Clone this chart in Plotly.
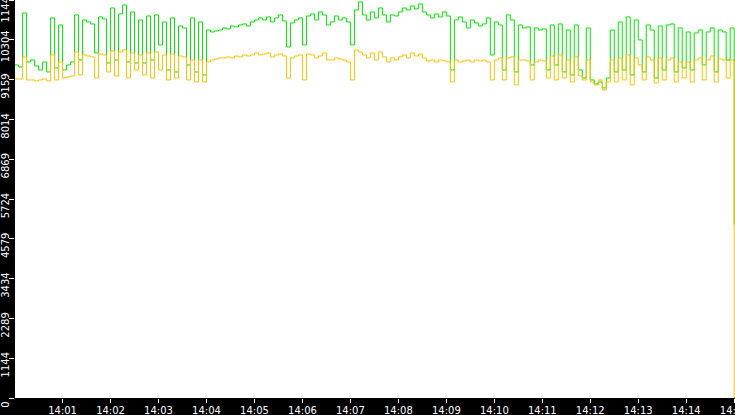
import pandas as pd
import plotly.graph_objects as go

# muestras cada 5 s desde las 14:00:00
start_time = '2024-01-01 14:00:00'
step_sec = 5

green_vals = [9580, 9523, 11076, 9667, 9724, 9552, 9437, 9667, 9379, 10933,
              9494, 10731, 9437, 9580, 9667, 11019, 9724, 10875, 10818, 10760,
              9926, 10961, 10904, 9638, 11220, 9724, 11048, 11306, 9667, 11105,
              9638, 10875, 9638, 10990, 9724, 11019, 10156, 10818, 9437, 10933,
              9379, 10702, 10645, 9580, 10933, 9379, 10818, 9293, 10587, 10530,
              10559, 10587, 10645, 10616, 10702, 10674, 10731, 10760, 10702, 10818,
              10875, 10933, 10875, 10961, 10818, 10933, 11019, 10846, 10098, 10789,
              10875, 10933, 10156, 10990, 11048, 10875, 11105, 11019, 10731, 10818,
              10990, 10875, 10933, 10818, 10156, 11163, 11393, 11019, 10875, 11105,
              10933, 11220, 11019, 10818, 11019, 10990, 11105, 11220, 11163, 11278,
              11192, 11335, 11105, 11019, 10933, 11048, 10961, 11105, 10990, 9437,
              10875, 10961, 10818, 10645, 10875, 10789, 10702, 10760, 10933, 9868,
              10818, 10731, 9437, 11019, 10875, 9379, 10731, 10645, 10674, 9580,
              10645, 10587, 10616, 9437, 10731, 9580, 10760, 9379, 10587, 9293,
              10731, 9437, 9206, 10645, 9149, 9034, 9091, 8919, 9206, 10587,
              9379, 10818, 9437, 10961, 9293, 10875, 10300, 9379, 10731, 10587,
              9206, 10702, 9437, 10731, 10760, 9379, 10645, 9494, 10530, 9437,
              10501, 10587, 9580, 10530, 10645, 9379, 10587, 10530, 9724, 10645,
              4977]

orange_vals = [9177, 9177, 9811, 9149, 9149, 9120, 9149, 9177, 9120, 9868,
               9149, 9667, 9206, 9235, 9264, 9954, 9293, 9868, 9839, 9811,
               9206, 9897, 9868, 9379, 9983, 9264, 9954, 10012, 9206, 9926,
               9437, 9868, 9293, 9926, 9206, 9954, 9437, 9868, 9149, 9897,
               9206, 9839, 9811, 9149, 9724, 9091, 9724, 9091, 9667, 9724,
               9753, 9782, 9782, 9811, 9782, 9839, 9811, 9868, 9839, 9868,
               9926, 9868, 9897, 9926, 9811, 9868, 9897, 9839, 9206, 9782,
               9839, 9868, 9149, 9897, 9868, 9782, 9839, 9926, 9724, 9724,
               9782, 9753, 9724, 9667, 9149, 10012, 9954, 9868, 9782, 9926,
               9724, 9954, 9811, 9667, 9782, 9724, 9811, 9868, 9782, 9926,
               9839, 9897, 9782, 9696, 9724, 9667, 9724, 9696, 9667, 9091,
               9724, 9667, 9696, 9724, 9667, 9724, 9696, 9724, 9667, 9149,
               9724, 9782, 9149, 9782, 9811, 9005, 9724, 9724, 9696, 9149,
               9667, 9724, 9696, 9206, 9839, 9149, 9868, 9206, 9724, 9091,
               9811, 9264, 9149, 9724, 9091, 9005, 9149, 8861, 9091, 9724,
               9091, 9782, 9149, 9868, 9005, 9782, 9580, 9149, 9811, 9724,
               9063, 9782, 9149, 9724, 9782, 9091, 9667, 9206, 9667, 9091,
               9724, 9782, 9149, 9724, 9839, 9091, 9753, 9724, 9206, 9724,
               0]

y_ticks = [0, 1144, 2289, 3434, 4579, 5724, 6869, 8014, 9159, 10304, 11449]

times = pd.date_range(start_time, periods=len(green_vals), freq=f'{step_sec}s')

fig = go.Figure()
fig.add_trace(go.Scatter(x=times, y=green_vals, mode='lines', line_shape='hv',
                         line=dict(color='#00e600', width=1), hoverinfo='skip'))
fig.add_trace(go.Scatter(x=times, y=orange_vals, mode='lines', line_shape='hv',
                         line=dict(color='#ffc000', width=1), hoverinfo='skip'))

tick_font = dict(family='DejaVu Sans', size=10, color='white')
fig.update_layout(width=735, height=415, showlegend=False,
                  margin={'l': 15, 'r': 0, 't': 0, 'b': 17, 'autoexpand': False},
                  paper_bgcolor='black', plot_bgcolor='white')
fig.update_xaxes(range=['2024-01-01 14:00:00.5', '2024-01-01 14:15:01'],
                 tickformat='%H:%M', dtick=60000, showgrid=False, zeroline=False,
                 ticks='outside', ticklen=4, tickcolor='white', tickfont=tick_font,
                 ticklabelstandoff=-1, ticklabeloverflow='allow', automargin=False)
fig.update_yaxes(range=[0, 11449], tickvals=y_ticks, ticktext=[str(v) for v in y_ticks],
                 tickangle=-90, ticklabelshift=8, ticklabelstandoff=-4,
                 ticklabeloverflow='allow', automargin=False,
                 showgrid=False, zeroline=False,
                 ticks='outside', ticklen=5, tickcolor='white', tickfont=tick_font)

# quitar el margen del body para que el grafico empiece en (0, 0)
fig.write_html("out.html", config={'displayModeBar': False},
               post_script="document.body.style.margin='0';")
